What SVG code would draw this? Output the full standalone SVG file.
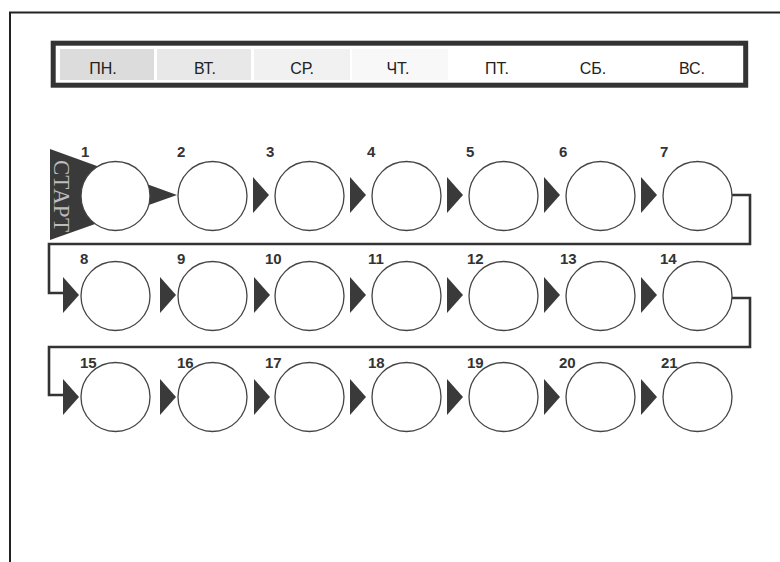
<svg xmlns="http://www.w3.org/2000/svg" width="780" height="562" viewBox="0 0 780 562">
<style>
.frame{fill:none;stroke:#222;stroke-width:2}
.day{font-family:"Liberation Sans",Arial,sans-serif;font-size:16px;fill:#222;text-anchor:middle}
.num{font-family:"Liberation Sans",Arial,sans-serif;font-size:15px;font-weight:bold;fill:#333}
.cell{fill:#fff;stroke:#444;stroke-width:1.3}
.arr{fill:#3a3a3a}
.conn{fill:none;stroke:#333;stroke-width:2.6;stroke-linejoin:miter}
</style>
<defs>
<polygon id="tri" points="0,-18 16,0 0,18"/>
</defs>
<rect width="780" height="562" fill="#fff"/>
<path class="frame" d="M10,562 V12.5 H780"/>
<g id="header">
<rect x="60" y="49" width="94" height="31" fill="#dcdcdc"/>
<rect x="157" y="49" width="94" height="31" fill="#e8e8e8"/>
<rect x="254" y="49" width="96" height="31" fill="#f1f1f1"/>
<rect x="352" y="49" width="96" height="31" fill="#f8f8f8"/>
<rect x="53.2" y="43.2" width="692.5" height="42" fill="none" stroke="#333" stroke-width="5"/>
<text class="day" x="103" y="74">ПН.</text>
<text class="day" x="205" y="74">ВТ.</text>
<text class="day" x="302" y="74">СР.</text>
<text class="day" x="398" y="74">ЧТ.</text>
<text class="day" x="497" y="74">ПТ.</text>
<text class="day" x="593" y="74">СБ.</text>
<text class="day" x="692" y="74">ВС.</text>
</g>
<g id="start">
<polygon points="50,149 50,240 177,195" fill="#3a3a3a"/>
<text x="0" y="0" transform="translate(54,196) rotate(90)" font-family="'Liberation Serif','Times New Roman',serif" font-size="23" fill="#bdbdbd" text-anchor="middle">СТАРТ</text>
</g>
<g id="connectors">
<path class="conn" d="M732,195 H750 V244 H49 V293 H64"/>
<path class="conn" d="M732,298 H750 V347 H49 V395 H64"/>
<use href="#tri" class="arr" x="253" y="195"/>
<use href="#tri" class="arr" x="350" y="195"/>
<use href="#tri" class="arr" x="447" y="195"/>
<use href="#tri" class="arr" x="544" y="195"/>
<use href="#tri" class="arr" x="641" y="195"/>
<use href="#tri" class="arr" x="63" y="295"/>
<use href="#tri" class="arr" x="160" y="295"/>
<use href="#tri" class="arr" x="254" y="295"/>
<use href="#tri" class="arr" x="350" y="295"/>
<use href="#tri" class="arr" x="447" y="295"/>
<use href="#tri" class="arr" x="544" y="295"/>
<use href="#tri" class="arr" x="641" y="295"/>
<use href="#tri" class="arr" x="63" y="397"/>
<use href="#tri" class="arr" x="160" y="397"/>
<use href="#tri" class="arr" x="254" y="397"/>
<use href="#tri" class="arr" x="350" y="397"/>
<use href="#tri" class="arr" x="447" y="397"/>
<use href="#tri" class="arr" x="544" y="397"/>
<use href="#tri" class="arr" x="641" y="397"/>
</g>
<g id="n1"><circle class="cell" cx="115.5" cy="196" r="34.5"/><text class="num" x="81" y="157">1</text></g>
<g id="n2"><circle class="cell" cx="212.5" cy="196" r="34.5"/><text class="num" x="177" y="157">2</text></g>
<g id="n3"><circle class="cell" cx="309.5" cy="196" r="34.5"/><text class="num" x="266" y="157">3</text></g>
<g id="n4"><circle class="cell" cx="406.5" cy="196" r="34.5"/><text class="num" x="367" y="157">4</text></g>
<g id="n5"><circle class="cell" cx="503.5" cy="196" r="34.5"/><text class="num" x="466" y="157">5</text></g>
<g id="n6"><circle class="cell" cx="600.5" cy="196" r="34.5"/><text class="num" x="559" y="157">6</text></g>
<g id="n7"><circle class="cell" cx="697.5" cy="196" r="34.5"/><text class="num" x="660" y="157">7</text></g>
<g id="n8"><circle class="cell" cx="115.5" cy="296" r="34.5"/><text class="num" x="80" y="264">8</text></g>
<g id="n9"><circle class="cell" cx="212.5" cy="296" r="34.5"/><text class="num" x="177" y="264">9</text></g>
<g id="n10"><circle class="cell" cx="309.5" cy="296" r="34.5"/><text class="num" x="265" y="264">10</text></g>
<g id="n11"><circle class="cell" cx="406.5" cy="296" r="34.5"/><text class="num" x="368" y="264">11</text></g>
<g id="n12"><circle class="cell" cx="503.5" cy="296" r="34.5"/><text class="num" x="467" y="264">12</text></g>
<g id="n13"><circle class="cell" cx="600.5" cy="296" r="34.5"/><text class="num" x="560" y="264">13</text></g>
<g id="n14"><circle class="cell" cx="697.5" cy="296" r="34.5"/><text class="num" x="660" y="264">14</text></g>
<g id="n15"><circle class="cell" cx="115.5" cy="397" r="34.5"/><text class="num" x="80" y="368">15</text></g>
<g id="n16"><circle class="cell" cx="212.5" cy="397" r="34.5"/><text class="num" x="177" y="368">16</text></g>
<g id="n17"><circle class="cell" cx="309.5" cy="397" r="34.5"/><text class="num" x="265" y="368">17</text></g>
<g id="n18"><circle class="cell" cx="406.5" cy="397" r="34.5"/><text class="num" x="368" y="368">18</text></g>
<g id="n19"><circle class="cell" cx="503.5" cy="397" r="34.5"/><text class="num" x="467" y="368">19</text></g>
<g id="n20"><circle class="cell" cx="600.5" cy="397" r="34.5"/><text class="num" x="559" y="368">20</text></g>
<g id="n21"><circle class="cell" cx="697.5" cy="397" r="34.5"/><text class="num" x="661" y="368">21</text></g>
</svg>
